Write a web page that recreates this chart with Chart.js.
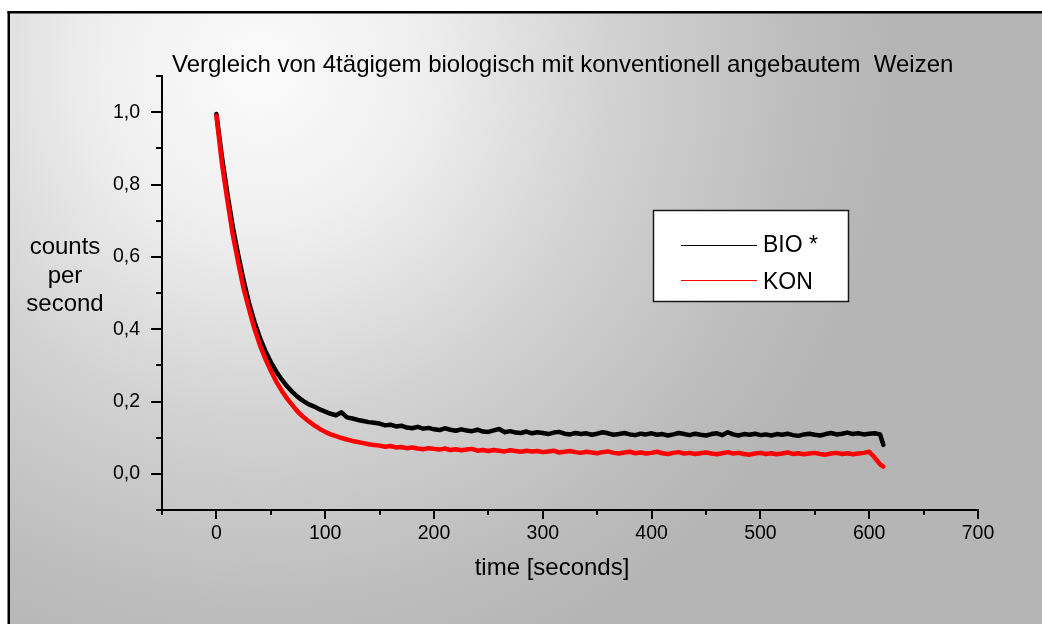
<!DOCTYPE html>
<html><head><meta charset="utf-8">
<script src="https://cdn.jsdelivr.net/npm/chart.js@4/dist/chart.umd.min.js"></script>
<style>html,body{margin:0;padding:0;background:#fff;overflow:hidden}canvas{display:block}</style>
</head><body>
<canvas id="c" width="1042" height="624"></canvas>
<script>
const chartTitle = 'Vergleich von 4tägigem biologisch mit konventionell angebautem  Weizen';
const xAxisTitle = 'time [seconds]';
const yAxisTitle = ['counts', 'per', 'second'];
const seriesNames = ['BIO *', 'KON'];

const timeSeconds = [0,5,10,15,20,25,30,35,40,45,50,55,60,65,70,75,80,85,90,95,
100,105,110,115,120,125,130,135,140,145,150,155,160,165,170,175,180,185,190,195,
200,205,210,215,220,225,230,235,240,245,250,255,260,265,270,275,280,285,290,295,
300,305,310,315,320,325,330,335,340,345,350,355,360,365,370,375,380,385,390,395,
400,405,410,415,420,425,430,435,440,445,450,455,460,465,470,475,480,485,490,495,
500,505,510,515,520,525,530,535,540,545,550,555,560,565,570,575,580,585,590,595,
600,605,610,613];

const bioValues = [0.995,0.878,0.776,0.684,0.606,0.535,0.472,0.420,0.376,0.340,0.309,0.283,0.261,0.242,0.226,0.212,0.201,0.192,0.186,0.178,
0.172,0.166,0.162,0.170,0.156,0.153,0.149,0.146,0.143,0.141,0.139,0.134,0.136,0.131,0.133,0.128,0.126,0.130,0.125,0.127,
0.123,0.121,0.126,0.122,0.119,0.123,0.120,0.118,0.122,0.117,0.116,0.120,0.124,0.115,0.118,0.114,0.113,0.117,0.112,0.115,
0.113,0.110,0.114,0.116,0.111,0.109,0.113,0.110,0.112,0.108,0.111,0.115,0.112,0.108,0.110,0.113,0.109,0.107,0.111,0.109,
0.112,0.108,0.110,0.106,0.109,0.113,0.110,0.107,0.111,0.108,0.106,0.110,0.112,0.107,0.115,0.109,0.106,0.110,0.108,0.111,
0.107,0.109,0.106,0.110,0.108,0.111,0.107,0.105,0.109,0.111,0.108,0.106,0.110,0.113,0.109,0.111,0.114,0.110,0.112,0.109,
0.111,0.112,0.109,0.080];

const konValues = [0.990,0.860,0.758,0.662,0.585,0.512,0.455,0.401,0.356,0.318,0.285,0.255,0.230,0.208,0.189,0.171,0.157,0.145,0.134,0.124,
0.116,0.109,0.104,0.099,0.095,0.091,0.088,0.085,0.082,0.080,0.078,0.075,0.077,0.073,0.074,0.071,0.073,0.070,0.068,0.071,
0.069,0.067,0.070,0.066,0.068,0.065,0.067,0.069,0.064,0.066,0.063,0.066,0.064,0.062,0.065,0.063,0.061,0.064,0.062,0.063,
0.060,0.062,0.064,0.059,0.061,0.063,0.060,0.058,0.061,0.059,0.057,0.060,0.062,0.058,0.056,0.059,0.061,0.057,0.059,0.056,
0.058,0.061,0.057,0.055,0.058,0.060,0.056,0.058,0.055,0.057,0.059,0.056,0.054,0.057,0.060,0.056,0.058,0.055,0.053,0.056,
0.058,0.055,0.057,0.054,0.056,0.059,0.055,0.057,0.054,0.056,0.058,0.055,0.053,0.056,0.058,0.055,0.057,0.054,0.056,0.058,
0.061,0.045,0.026,0.020];

const xTickValues = [0,100,200,300,400,500,600,700];
const xTickLabels = ['0','100','200','300','400','500','600','700'];
const yTickValues = [0,0.2,0.4,0.6,0.8,1.0];
const yTickLabels = ['0,0','0,2','0,4','0,6','0,8','1,0'];

const FONT = "'Liberation Sans', Arial, Helvetica, sans-serif";

function labelFor(values, labels, v) {
  for (let i = 0; i < values.length; i++) if (Math.abs(values[i] - v) < 1e-6) return labels[i];
  return '';
}

const bgPlugin = {
  id: 'bg',
  beforeDraw(chart) {
    const ctx = chart.ctx;
    ctx.save();
    ctx.fillStyle = '#ffffff';
    ctx.fillRect(0, 0, chart.width, chart.height);
    const g = ctx.createRadialGradient(260, 70, 0, 260, 70, 640);
    g.addColorStop(0, '#fbfbfb');
    g.addColorStop(0.25, '#efefef');
    g.addColorStop(0.55, '#d2d2d2');
    g.addColorStop(0.85, '#bcbcbc');
    g.addColorStop(1, '#b5b5b5');
    ctx.fillStyle = g;
    ctx.fillRect(9, 12, chart.width, chart.height);
    ctx.fillStyle = '#000';
    ctx.fillRect(7.5, 11, chart.width, 2.5);
    ctx.fillRect(7.5, 11, 2.5, chart.height);
    ctx.restore();
  },
  afterDraw(chart) {
    const ctx = chart.ctx;
    const xs = chart.scales.x, ys = chart.scales.y;
    const area = chart.chartArea;
    ctx.save();
    ctx.strokeStyle = '#000';
    ctx.lineWidth = 2;
    ctx.beginPath();
    xs.ticks.forEach(t => {
      const px = Math.round(xs.getPixelForValue(t.value));
      const major = labelFor(xTickValues, xTickLabels, t.value) !== '';
      ctx.moveTo(px, area.bottom);
      ctx.lineTo(px, area.bottom + (major ? 9 : 5));
    });
    ys.ticks.forEach(t => {
      const py = Math.round(ys.getPixelForValue(t.value));
      const major = labelFor(yTickValues, yTickLabels, t.value) !== '';
      ctx.moveTo(area.left, py);
      ctx.lineTo(area.left - (major ? 11 : 6), py);
    });
    ctx.stroke();

    ctx.fillStyle = '#000';
    ctx.font = '24px ' + FONT;
    ctx.textBaseline = 'alphabetic';
    ctx.textAlign = 'left';
    ctx.fillText(chartTitle, 172, 72);

    ctx.textAlign = 'center';
    const yBase = [254, 283, 311];
    yAxisTitle.forEach((s, i) => ctx.fillText(s, 65, yBase[i]));
    ctx.fillText(xAxisTitle, 552, 575);

    ctx.fillStyle = '#ffffff';
    ctx.fillRect(653.5, 210.5, 195, 91);
    ctx.strokeStyle = '#1a1a1a';
    ctx.lineWidth = 1.5;
    ctx.strokeRect(653.5, 210.5, 195, 91);
    const ds = chart.data.datasets;
    const rows = [[245, 251.5], [280, 289]];
    ds.forEach((d, i) => {
      ctx.strokeStyle = d.borderColor;
      ctx.lineWidth = 1;
      ctx.beginPath();
      ctx.moveTo(681, rows[i][0] + 0.5);
      ctx.lineTo(757, rows[i][0] + 0.5);
      ctx.stroke();
      ctx.fillStyle = '#000';
      ctx.textAlign = 'left';
      ctx.font = '23px ' + FONT;
      ctx.fillText(d.label, 763, rows[i][1]);
    });
    ctx.restore();
  }
};

new Chart(document.getElementById('c'), {
  type: 'line',
  data: {
    datasets: [
      { label: seriesNames[0], data: timeSeconds.map((t, i) => ({x: t, y: bioValues[i]})),
        borderColor: '#000000', backgroundColor: '#000000', borderWidth: 4.5, pointRadius: 0,
        tension: 0, order: 1, borderJoinStyle: 'round', borderCapStyle: 'round' },
      { label: seriesNames[1], data: timeSeconds.map((t, i) => ({x: t, y: konValues[i]})),
        borderColor: '#ff0000', backgroundColor: '#ff0000', borderWidth: 4.5, pointRadius: 0,
        tension: 0, order: 0, borderJoinStyle: 'round', borderCapStyle: 'round' }
    ]
  },
  options: {
    responsive: false,
    animation: false,
    devicePixelRatio: 1,
    layout: { padding: { left: 62, right: 64, top: 76, bottom: 54 } },
    plugins: { legend: { display: false }, title: { display: false }, tooltip: { enabled: false } },
    scales: {
      x: {
        type: 'linear', min: -50, max: 700,
        afterFit: s => { s.height = 60; },
        grid: { display: true, drawOnChartArea: false, drawTicks: false },
        border: { display: true, color: '#000', width: 2 },
        ticks: { stepSize: 50, autoSkip: false, maxRotation: 0, padding: 12, color: '#000',
          font: { family: FONT, size: 19.5 },
          callback: v => labelFor(xTickValues, xTickLabels, v) }
      },
      y: {
        type: 'linear', min: -0.1, max: 1.1,
        afterFit: s => { s.width = 100; },
        grid: { display: true, drawOnChartArea: false, drawTicks: false },
        border: { display: true, color: '#000', width: 2 },
        ticks: { stepSize: 0.1, autoSkip: false, padding: 22, color: '#000',
          font: { family: FONT, size: 19.5 },
          callback: v => labelFor(yTickValues, yTickLabels, v) }
      }
    }
  },
  plugins: [bgPlugin]
});
</script>
</body></html>
